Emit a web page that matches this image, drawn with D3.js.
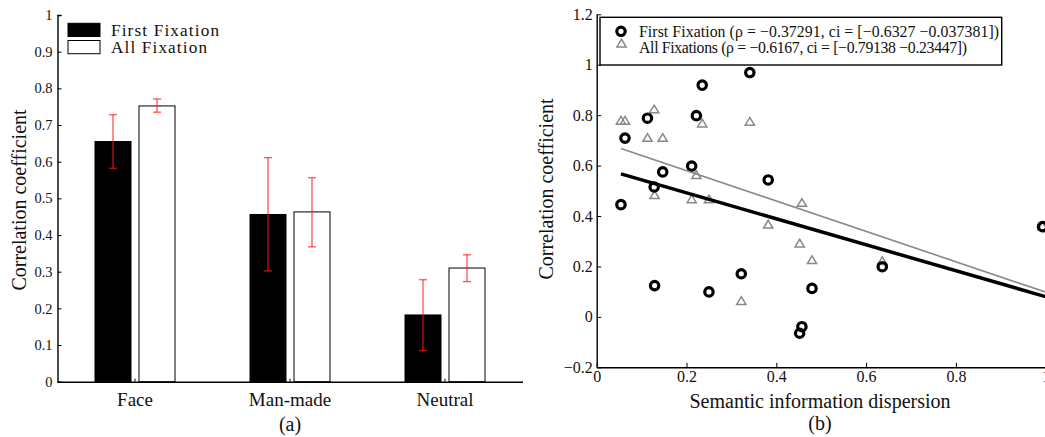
<!DOCTYPE html>
<html>
<head>
<meta charset="utf-8">
<script src="https://cdn.jsdelivr.net/npm/d3@7"></script>
<style>
  html, body { margin: 0; padding: 0; background: #fff; }
  svg { display: block; font-family: "Liberation Serif", "Times New Roman", serif; }
  text { fill: #111; }
</style>
</head>
<body>
<svg id="chart" width="1045" height="437"></svg>
<script>
// ---------- Data: panel (a) ----------
const categories = ["Face", "Man-made", "Neutral"];
const seriesNames = ["First Fixation", "All Fixation"];
const firstMean = [0.655, 0.456, 0.182];
const firstLo   = [0.582, 0.302, 0.085];
const firstHi   = [0.728, 0.611, 0.278];
const allMean   = [0.752, 0.463, 0.310];
const allLo     = [0.735, 0.368, 0.273];
const allHi     = [0.771, 0.556, 0.346];
const yTicksA   = [0, 0.1, 0.2, 0.3, 0.4, 0.5, 0.6, 0.7, 0.8, 0.9, 1];

// ---------- Data: panel (b) ----------
const dispersion = [0.054, 0.063, 0.113, 0.128, 0.129, 0.147, 0.2115, 0.222, 0.235, 0.250, 0.322, 0.341, 0.382, 0.452, 0.457, 0.4795, 0.636, 0.993];
const firstCorr  = [0.445, 0.709, 0.788, 0.515, 0.124, 0.575, 0.598, 0.798, 0.919, 0.099, 0.171, 0.969, 0.543, -0.065, -0.039, 0.113, 0.199, 0.358];
const allCorr    = [0.779, 0.779, 0.711, 0.824, 0.484, 0.711, 0.467, 0.563, 0.768, 0.467, 0.064, 0.775, 0.367, 0.292, 0.453, 0.226, 0.222, 0.360];
const fitFirst   = [[0.054, 0.567], [1.0, 0.080]];
const fitAll     = [[0.054, 0.668], [1.0, 0.098]];
const legendB    = ["First Fixation (\u03C1 = \u22120.37291, ci = [\u22120.6327 \u22120.037381])",
                    "All Fixations (\u03C1 = \u22120.6167, ci = [\u22120.79138 \u22120.23447])"];
const xTicksB    = [0, 0.2, 0.4, 0.6, 0.8, 1];
const yTicksB    = [-0.2, 0, 0.2, 0.4, 0.6, 0.8, 1, 1.2];

const svg = d3.select("#chart");
const fmt = v => (v < 0 ? "\u2212" : "") + d3.format("")(Math.abs(+v.toFixed(2)));

// ================= Panel (a) =================
const gA = svg.append("g");
const xA = d3.scaleBand().domain(categories).range([57.5, 522.5]).paddingInner(0).paddingOuter(0);
const xInner = d3.scaleBand().domain(seriesNames).range([-40, 40]).paddingInner(8 / 44);
const yA = d3.scaleLinear().domain([0, 1]).range([381.7, 15]);

const rowsA = categories.map((c, i) => ({
  cat: c,
  vals: [
    { s: seriesNames[0], m: firstMean[i], lo: firstLo[i], hi: firstHi[i] },
    { s: seriesNames[1], m: allMean[i], lo: allLo[i], hi: allHi[i] }
  ]
}));

const groups = gA.selectAll("g.cat").data(rowsA).join("g")
  .attr("transform", d => `translate(${xA(d.cat) + xA.bandwidth() / 2},0)`);

groups.selectAll("rect").data(d => d.vals).join("rect")
  .attr("x", d => xInner(d.s))
  .attr("width", xInner.bandwidth())
  .attr("y", d => yA(d.m))
  .attr("height", d => yA(0) - yA(d.m))
  .attr("fill", d => d.s === seriesNames[0] ? "#000" : "#fff")
  .attr("stroke", "#000")
  .attr("stroke-width", 1);

// error bars
const eb = groups.selectAll("g.eb").data(d => d.vals).join("g")
  .attr("stroke", "#ff1a1a").attr("stroke-width", 1.3).attr("stroke-opacity", 0.75);
eb.append("line")
  .attr("x1", d => xInner(d.s) + xInner.bandwidth() / 2)
  .attr("x2", d => xInner(d.s) + xInner.bandwidth() / 2)
  .attr("y1", d => yA(d.lo)).attr("y2", d => yA(d.hi));
eb.selectAll("line.cap").data(d => [{ s: d.s, v: d.lo }, { s: d.s, v: d.hi }]).join("line")
  .attr("class", "cap")
  .attr("x1", d => xInner(d.s) + xInner.bandwidth() / 2 - 4)
  .attr("x2", d => xInner(d.s) + xInner.bandwidth() / 2 + 4)
  .attr("y1", d => yA(d.v)).attr("y2", d => yA(d.v));

// axes (a)
const axLA = gA.append("g").attr("transform", "translate(57.5,0)")
  .call(d3.axisLeft(yA).tickValues(yTicksA).tickSize(-4).tickPadding(5).tickFormat(d => d3.format("")(+d.toFixed(1))));
axLA.select(".domain").attr("stroke", "#000").attr("stroke-width", 1.4);
axLA.selectAll(".tick line").attr("stroke", "#000");
axLA.selectAll(".tick text").attr("font-family", "Liberation Serif").attr("font-size", 14.5).attr("fill", "#222");

const axBA = gA.append("g").attr("transform", `translate(0,${yA(0)})`)
  .call(d3.axisBottom(xA).tickSize(-3).tickPadding(11).tickSizeOuter(0));
axBA.select(".domain").attr("stroke", "#000").attr("stroke-width", 1.4);
axBA.selectAll(".tick line").attr("stroke", "#000");
axBA.selectAll(".tick text").attr("font-family", "Liberation Serif").attr("font-size", 19).attr("fill", "#111");

gA.append("text").attr("transform", "translate(26,200) rotate(-90)")
  .attr("text-anchor", "middle").attr("font-size", 20).text("Correlation coefficient");
gA.append("text").attr("x", 290).attr("y", 431)
  .attr("text-anchor", "middle").attr("font-size", 20).text("(a)");

// legend (a)
const legA = gA.append("g");
seriesNames.forEach((s, i) => {
  legA.append("rect").attr("x", 68).attr("y", 23.3 + i * 17.2).attr("width", 32).attr("height", 13.2)
    .attr("fill", i === 0 ? "#000" : "#fff").attr("stroke", "#000").attr("stroke-width", 1);
  legA.append("text").attr("x", 111).attr("y", 36.3 + i * 17).attr("font-size", 17.2)
    .attr("textLength", i === 0 ? 108 : 96).attr("lengthAdjust", "spacing").text(s);
});

// ================= Panel (b) =================
const gB = svg.append("g");
const xB = d3.scaleLinear().domain([0, 1]).range([596.7, 1045.7]);
const yB = d3.scaleLinear().domain([-0.2, 1.2]).range([367.3, 14.3]);

const axLB = gB.append("g").attr("transform", `translate(${xB(0)},0)`)
  .call(d3.axisLeft(yB).tickValues(yTicksB).tickSize(-4.5).tickPadding(4).tickSizeOuter(0).tickFormat(fmt));
axLB.select(".domain").attr("stroke", "#000").attr("stroke-width", 1.4);
axLB.selectAll(".tick line").attr("stroke", "#000");
axLB.selectAll(".tick text").attr("font-family", "Liberation Serif").attr("font-size", 16).attr("fill", "#222");

const axBB = gB.append("g").attr("transform", `translate(0,${yB(-0.2)})`)
  .call(d3.axisBottom(xB).tickValues(xTicksB).tickSize(-4.5).tickPadding(3).tickSizeOuter(0).tickFormat(fmt));
axBB.select(".domain").attr("stroke", "#000").attr("stroke-width", 1.4);
axBB.selectAll(".tick line").attr("stroke", "#000");
axBB.selectAll(".tick text").attr("font-family", "Liberation Serif").attr("font-size", 16).attr("fill", "#222");

gB.append("text").attr("transform", "translate(553,189) rotate(-90)")
  .attr("text-anchor", "middle").attr("font-size", 20).text("Correlation coefficient");
gB.append("text").attr("x", 820).attr("y", 408)
  .attr("text-anchor", "middle").attr("font-size", 20).text("Semantic information dispersion");
gB.append("text").attr("x", 820).attr("y", 430)
  .attr("text-anchor", "middle").attr("font-size", 20).text("(b)");

const line = d3.line().x(d => xB(d[0])).y(d => yB(d[1]));
const pts = dispersion.map((x, i) => ({ x, f: firstCorr[i], a: allCorr[i] }));

const triPath = (cx, cy) => `M${cx},${cy - 4}L${cx + 4.6},${cy + 3.7}L${cx - 4.6},${cy + 3.7}Z`;

// triangles (All Fixations)
gB.append("g").selectAll("path").data(pts).join("path")
  .attr("d", d => triPath(xB(d.x), yB(d.a)))
  .attr("fill", "none").attr("stroke", "#888").attr("stroke-width", 1.5);
// circles (First Fixation)
gB.append("g").selectAll("circle").data(pts).join("circle")
  .attr("cx", d => xB(d.x)).attr("cy", d => yB(d.f)).attr("r", 4.2)
  .attr("fill", "none").attr("stroke", "#000").attr("stroke-width", 3.2);

gB.append("path").datum(fitAll).attr("d", line)
  .attr("fill", "none").attr("stroke", "#888").attr("stroke-width", 1.6);
gB.append("path").datum(fitFirst).attr("d", line)
  .attr("fill", "none").attr("stroke", "#000").attr("stroke-width", 3.5);

// legend (b)
const legB = gB.append("g");
legB.append("rect").attr("x", 600).attr("y", 17.3).attr("width", 401.7).attr("height", 47.7)
  .attr("fill", "#fff").attr("stroke", "#000").attr("stroke-width", 1.4);
legB.append("circle").attr("cx", 621).attr("cy", 31.3).attr("r", 4.2)
  .attr("fill", "none").attr("stroke", "#000").attr("stroke-width", 3.2);
legB.append("path").attr("d", triPath(621.5, 43.2))
  .attr("fill", "none").attr("stroke", "#888").attr("stroke-width", 1.5);
legendB.forEach((t, i) => {
  legB.append("text").attr("x", 639).attr("y", 36.8 + i * 16.6).attr("font-size", 15.8)
    .attr("textLength", i === 0 ? 360 : 328).attr("lengthAdjust", "spacing").text(t);
});
</script>
</body>
</html>
